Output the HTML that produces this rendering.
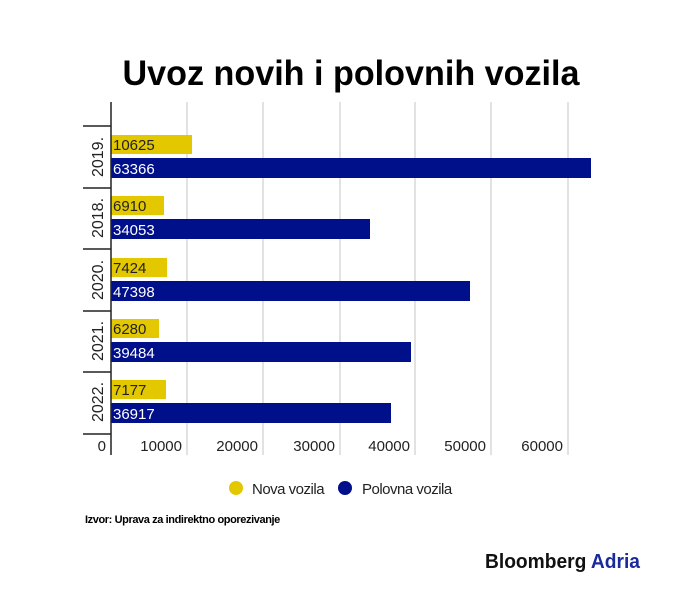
<!DOCTYPE html>
<html><head><meta charset="utf-8"><style>html,body{margin:0;padding:0;background:#fff}svg{display:block}</style></head><body>
<svg width="695" height="606" xmlns="http://www.w3.org/2000/svg" font-family="Liberation Sans, sans-serif">
<rect width="695" height="606" fill="#fff"/>
<text x="351" y="85" text-anchor="middle" font-size="35" font-weight="bold" textLength="457" lengthAdjust="spacingAndGlyphs" fill="#000">Uvoz novih i polovnih vozila</text>
<g stroke="#d9d9d9" stroke-width="1.5">
<line x1="187" y1="102" x2="187" y2="455"/><line x1="263" y1="102" x2="263" y2="455"/><line x1="340" y1="102" x2="340" y2="455"/><line x1="415" y1="102" x2="415" y2="455"/><line x1="491" y1="102" x2="491" y2="455"/><line x1="568" y1="102" x2="568" y2="455"/>
</g>
<g fill="#e3c800">
<rect x="111" y="135" width="81" height="19"/><rect x="111" y="196" width="53" height="19"/><rect x="111" y="258" width="56" height="19"/><rect x="111" y="319" width="48" height="19"/><rect x="111" y="380" width="55" height="19"/>
</g>
<g fill="#000f8a">
<rect x="111" y="158" width="480" height="20"/><rect x="111" y="219" width="259" height="20"/><rect x="111" y="281" width="359" height="20"/><rect x="111" y="342" width="300" height="20"/><rect x="111" y="403" width="280" height="20"/>
</g>
<g font-size="15" fill="#222">
<text x="113" y="150">10625</text><text x="113" y="211">6910</text><text x="113" y="273">7424</text><text x="113" y="334">6280</text><text x="113" y="395">7177</text>
</g>
<g font-size="15" fill="#fff">
<text x="113" y="174">63366</text><text x="113" y="235">34053</text><text x="113" y="297">47398</text><text x="113" y="358">39484</text><text x="113" y="419">36917</text>
</g>
<g stroke="#222" stroke-width="1.5">
<line x1="111" y1="102" x2="111" y2="455"/>
<line x1="83" y1="126" x2="111" y2="126"/><line x1="83" y1="188" x2="111" y2="188"/><line x1="83" y1="249" x2="111" y2="249"/><line x1="83" y1="311" x2="111" y2="311"/><line x1="83" y1="372" x2="111" y2="372"/><line x1="83" y1="434" x2="111" y2="434"/>
</g>
<g font-size="16" fill="#222">
<text transform="translate(103,157) rotate(-90)" text-anchor="middle">2019.</text>
<text transform="translate(103,218) rotate(-90)" text-anchor="middle">2018.</text>
<text transform="translate(103,280) rotate(-90)" text-anchor="middle">2020.</text>
<text transform="translate(103,341) rotate(-90)" text-anchor="middle">2021.</text>
<text transform="translate(103,402) rotate(-90)" text-anchor="middle">2022.</text>
</g>
<g font-size="15" fill="#222" text-anchor="end">
<text x="106" y="451">0</text><text x="182" y="451">10000</text><text x="258" y="451">20000</text><text x="335" y="451">30000</text><text x="410" y="451">40000</text><text x="486" y="451">50000</text><text x="563" y="451">60000</text>
</g>
<circle cx="236" cy="488" r="7" fill="#e3c800"/>
<text x="252" y="494" font-size="15" fill="#222" letter-spacing="-0.5">Nova vozila</text>
<circle cx="345" cy="488" r="7" fill="#000f8a"/>
<text x="362" y="494" font-size="15" fill="#222" letter-spacing="-0.5">Polovna vozila</text>
<text x="85" y="523" font-size="11" font-weight="bold" fill="#000" letter-spacing="-0.4">Izvor: Uprava za indirektno oporezivanje</text>
<text x="485" y="568" font-size="20" font-weight="bold" fill="#111" textLength="155" lengthAdjust="spacingAndGlyphs">Bloomberg <tspan fill="#1a2a9c">Adria</tspan></text>
</svg>
</body></html>
